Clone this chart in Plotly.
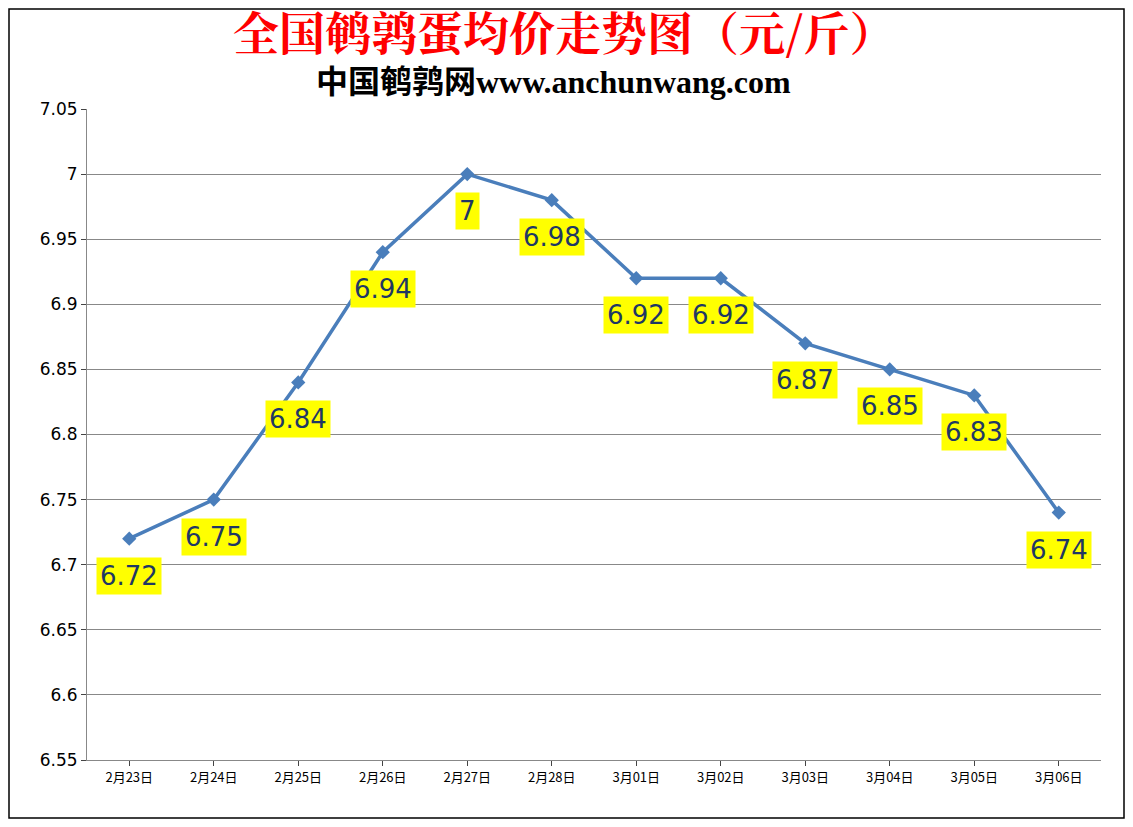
import plotly.graph_objects as go

dates = ["2月23日","2月24日","2月25日","2月26日","2月27日","2月28日","3月01日","3月02日","3月03日","3月04日","3月05日","3月06日"]
prices = [6.72,6.75,6.84,6.94,7.00,6.98,6.92,6.92,6.87,6.85,6.83,6.74]
labels = ["6.72","6.75","6.84","6.94","7","6.98","6.92","6.92","6.87","6.85","6.83","6.74"]

W, H = 1117, 811
L, R, T, B = 79, 24, 101, 59
pw, ph = W - L - R, H - T - B

fig = go.Figure()
fig.add_trace(go.Scatter(x=dates, y=prices, mode="lines+markers",
    line=dict(color="#4a7ebb", width=3.5),
    marker=dict(symbol="diamond", size=11, color="#4a7ebb")))
for d, p, t in zip(dates, prices, labels):
    fig.add_annotation(x=d, y=p, text=t, showarrow=False, yshift=-37,
        bgcolor="#ffff00", borderpad=3,
        font=dict(family="DejaVu Sans", size=26, color="#1f3864"))
fig.add_annotation(text="<b>全国鹌鹑蛋均价走势图（元/斤）</b>", x=0.47, y=1+(T-22)/ph, xref="paper", yref="paper",
    yanchor="middle", showarrow=False,
    font=dict(family="Noto Serif CJK SC, Noto Sans CJK SC", size=46, color="#ff0000"))
fig.add_annotation(text="<b>中国鹌鹑网www.anchunwang.com</b>", x=0.46, y=1+(T-74)/ph, xref="paper", yref="paper",
    yanchor="middle", showarrow=False, font=dict(family="Liberation Serif, Noto Sans CJK SC", size=32, color="black"))
fig.update_layout(
    width=W, height=H, plot_bgcolor="white", paper_bgcolor="white",
    margin=dict(l=L, r=R, t=T, b=B), showlegend=False,
    shapes=[dict(type="rect", xref="paper", yref="paper", x0=-(L-1)/pw, x1=1+(R-1)/pw,
                 y0=-(B-1)/ph, y1=1+(T-1)/ph, line=dict(color="black", width=1.5))],
)
fig.update_xaxes(type="category", range=[-0.5, 11.5], showline=True, linecolor="#888", ticks="outside",
    tickfont=dict(family="Noto Sans CJK SC", size=13, color="black"), showgrid=False)
fig.update_yaxes(range=[6.55, 7.05], dtick=0.05, tickformat="~g", showline=True, linecolor="#888",
    gridcolor="#888", gridwidth=1, ticks="outside", ticklen=5,
    tickfont=dict(family="DejaVu Sans", size=17, color="black"))
fig.write_html("out.html")
